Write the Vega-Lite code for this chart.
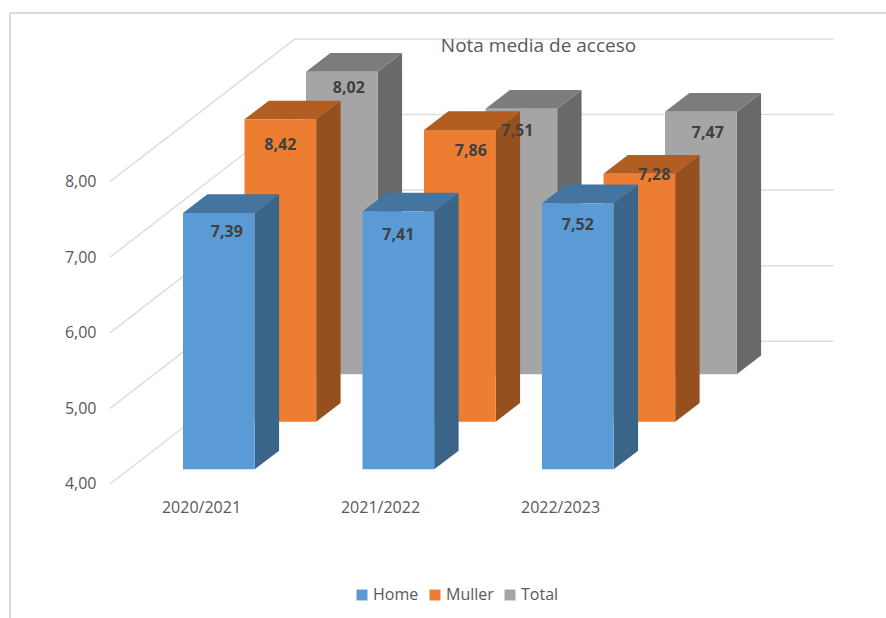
{
"$schema":"https://vega.github.io/schema/vega-lite/v6.json",
"width":886,"height":618,"padding":0,"autosize":{"type":"none"},"background":"white",
"config":{"view":{"stroke":null},"font":"Open Sans"},
"title":{"text":"Nota media de acceso","anchor":"middle","dx":95.5,"dy":60,"fontSize":19,"fontWeight":"normal","color":"#595959","font":"Open Sans"},
"encoding":{
 "x":{"field":"xa","type":"quantitative","scale":{"domain":[-1.0195,3.9164],"nice":false,"zero":false},
  "axis":{"title":null,"values":[0.1003,1.0975,2.1003],"labelExpr":"['2020/2021','2021/2022','2022/2023'][round(datum.value-0.1)]","orient":"bottom","offset":-119,"grid":false,"domain":false,"ticks":false,"labelPadding":0,"labelFontSize":16,"labelColor":"#595959","labelFont":"Open Sans","labelOverlap":false,"labelFlush":false,"labelBound":false}},
 "y":{"field":"ya","type":"quantitative","scale":{"domain":[2.2275,10.402],"nice":false,"zero":false},
  "axis":{"title":null,"values":[4,5,6,7,8],"labelExpr":"replace(format(datum.value,'.2f'),'.',',')","orient":"left","offset":-96,"grid":false,"domain":false,"ticks":false,"labelPadding":0,"labelFontSize":16,"labelColor":"#595959","labelFont":"Open Sans","labelOverlap":false,"labelFlush":false,"labelBound":false}}
},
"layer":[
 {"data":{"values":[{"marco":"izquierda"},{"marco":"arriba"}]},
  "transform":[{"calculate":"-0.9638","as":"xa"},{"calculate":"datum.marco=='arriba'?3.9164:-0.9638","as":"xb"},{"calculate":"10.23","as":"ya"},{"calculate":"datum.marco=='arriba'?10.23:2.2275","as":"yb"}],
  "mark":{"type":"rule","color":"#D9D9D9","strokeWidth":2},"encoding":{"x2":{"field":"xb"},"y2":{"field":"yb"}}},
 {"data":{"values":[{"valor":4},{"valor":5},{"valor":6},{"valor":7},{"valor":8}]},
  "transform":[{"calculate":"-0.4067","as":"xa"},{"calculate":"0.624","as":"xb"},{"calculate":"datum.valor","as":"ya"},{"calculate":"datum.valor+1.8876","as":"yb"}],
  "mark":{"type":"rule","color":"#DDDDDD","strokeWidth":1.5},"encoding":{"x2":{"field":"xb"},"y2":{"field":"yb"}}},
 {"data":{"values":[{"valor":4},{"valor":5},{"valor":6},{"valor":7},{"valor":8}]},
  "transform":[{"calculate":"0.624","as":"xa"},{"calculate":"3.625","as":"xb"},{"calculate":"datum.valor+1.8876","as":"ya"},{"calculate":"datum.valor+1.8876","as":"yb"}],
  "mark":{"type":"rule","color":"#DDDDDD","strokeWidth":1.5},"encoding":{"x2":{"field":"xb"},"y2":{"field":"yb"}}},
 {"data":{"values":[
  {"curso":"2020/2021","serie":"Home","nota":7.39},{"curso":"2021/2022","serie":"Home","nota":7.41},{"curso":"2022/2023","serie":"Home","nota":7.52},
  {"curso":"2020/2021","serie":"Muller","nota":8.42},{"curso":"2021/2022","serie":"Muller","nota":7.86},{"curso":"2022/2023","serie":"Muller","nota":7.28},
  {"curso":"2020/2021","serie":"Total","nota":8.02},{"curso":"2021/2022","serie":"Total","nota":7.51},{"curso":"2022/2023","serie":"Total","nota":7.47}]},
  "transform":[
   {"calculate":"indexof(['Home','Muller','Total'],datum.serie)","as":"s"},
   {"calculate":"indexof(['2020/2021','2021/2022','2022/2023'],datum.curso)","as":"yi"},
   {"calculate":"datum.yi+datum.s*0.3426","as":"xL"},
   {"calculate":"datum.xL+0.3994","as":"xR"},
   {"calculate":"min(datum.nota,8)+0.194+datum.s*0.6296","as":"yT"},
   {"calculate":"4.194+datum.s*0.6296","as":"yB"},
   {"calculate":"[0,1]","as":"d"},
   {"flatten":["d"]},
   {"calculate":"replace(format(datum.nota,'.2f'),'.',',')","as":"etiqueta"}
  ],
  "layer":[
   {"transform":[{"filter":"datum.s==2"}],"layer":[
     {"transform":[{"calculate":"datum.xR+datum.d*0.1359","as":"xa"},{"calculate":"datum.yT+datum.d*0.2474","as":"ya"},{"calculate":"datum.yB+datum.d*0.2474","as":"yb"}],"mark":{"type":"area","orient":"vertical","color":"#696969"},"encoding":{"y2":{"field":"yb"},"detail":{"field":"curso"}}},
     {"transform":[{"calculate":"datum.xL+datum.d*0.1359","as":"xa"},{"calculate":"datum.xR+datum.d*0.1359","as":"xb"},{"calculate":"datum.yT+datum.d*0.2474","as":"ya"}],"mark":{"type":"area","orient":"horizontal","color":"#7C7C7C"},"encoding":{"x2":{"field":"xb"},"detail":{"field":"curso"}}},
     {"transform":[{"filter":"datum.d==0"},{"calculate":"datum.xL","as":"xa"},{"calculate":"datum.xR","as":"xb"},{"calculate":"datum.yT","as":"ya"},{"calculate":"datum.yB","as":"yb"}],"mark":{"type":"rect"},"encoding":{"x2":{"field":"xb"},"y2":{"field":"yb"},"color":{"field":"serie","type":"nominal","scale":{"domain":["Home","Muller","Total"],"range":["#5B9BD5","#ED7D31","#A5A5A5"]},"legend":{"title":null,"orient":"none","legendX":354,"legendY":587,"direction":"horizontal","columns":3,"symbolType":"square","symbolSize":120,"symbolStrokeWidth":0,"labelFontSize":16,"labelColor":"#595959","labelFont":"Open Sans","columnPadding":8,"labelOffset":3}}}}
   ]},
   {"transform":[{"filter":"datum.s==1"}],"layer":[
     {"transform":[{"calculate":"datum.xR+datum.d*0.1359","as":"xa"},{"calculate":"datum.yT+datum.d*0.2474","as":"ya"},{"calculate":"datum.yB+datum.d*0.2474","as":"yb"}],"mark":{"type":"area","orient":"vertical","color":"#95501F"},"encoding":{"y2":{"field":"yb"},"detail":{"field":"curso"}}},
     {"transform":[{"calculate":"datum.xL+datum.d*0.1359","as":"xa"},{"calculate":"datum.xR+datum.d*0.1359","as":"xb"},{"calculate":"datum.yT+datum.d*0.2474","as":"ya"}],"mark":{"type":"area","orient":"horizontal","color":"#B25D22"},"encoding":{"x2":{"field":"xb"},"detail":{"field":"curso"}}},
     {"transform":[{"filter":"datum.d==0"},{"calculate":"datum.xL","as":"xa"},{"calculate":"datum.xR","as":"xb"},{"calculate":"datum.yT","as":"ya"},{"calculate":"datum.yB","as":"yb"}],"mark":{"type":"rect"},"encoding":{"x2":{"field":"xb"},"y2":{"field":"yb"},"color":{"field":"serie","type":"nominal"}}}
   ]},
   {"transform":[{"filter":"datum.s==0"}],"layer":[
     {"transform":[{"calculate":"datum.xR+datum.d*0.1359","as":"xa"},{"calculate":"datum.yT+datum.d*0.2474","as":"ya"},{"calculate":"datum.yB+datum.d*0.2474","as":"yb"}],"mark":{"type":"area","orient":"vertical","color":"#3A6488"},"encoding":{"y2":{"field":"yb"},"detail":{"field":"curso"}}},
     {"transform":[{"calculate":"datum.xL+datum.d*0.1359","as":"xa"},{"calculate":"datum.xR+datum.d*0.1359","as":"xb"},{"calculate":"datum.yT+datum.d*0.2474","as":"ya"}],"mark":{"type":"area","orient":"horizontal","color":"#4475A1"},"encoding":{"x2":{"field":"xb"},"detail":{"field":"curso"}}},
     {"transform":[{"filter":"datum.d==0"},{"calculate":"datum.xL","as":"xa"},{"calculate":"datum.xR","as":"xb"},{"calculate":"datum.yT","as":"ya"},{"calculate":"datum.yB","as":"yb"}],"mark":{"type":"rect"},"encoding":{"x2":{"field":"xb"},"y2":{"field":"yb"},"color":{"field":"serie","type":"nominal"}}}
   ]},
   {"transform":[{"filter":"datum.d==0"},
     {"calculate":"3*datum.s+datum.yi","as":"k"},
     {"calculate":"datum.xL+0.1997+[8,0,0,0,11,15,7,-4,7][datum.k]/179.5","as":"xa"},
     {"calculate":"datum.yT-[19,23.5,22,26,21,1,16,22,21][datum.k]/75.6","as":"ya"}],
    "mark":{"type":"text","fontSize":16,"fontWeight":"bold","color":"#404040","font":"Open Sans","baseline":"middle","align":"center"},
    "encoding":{"text":{"field":"etiqueta","type":"nominal"}}}
  ]}
]
}
